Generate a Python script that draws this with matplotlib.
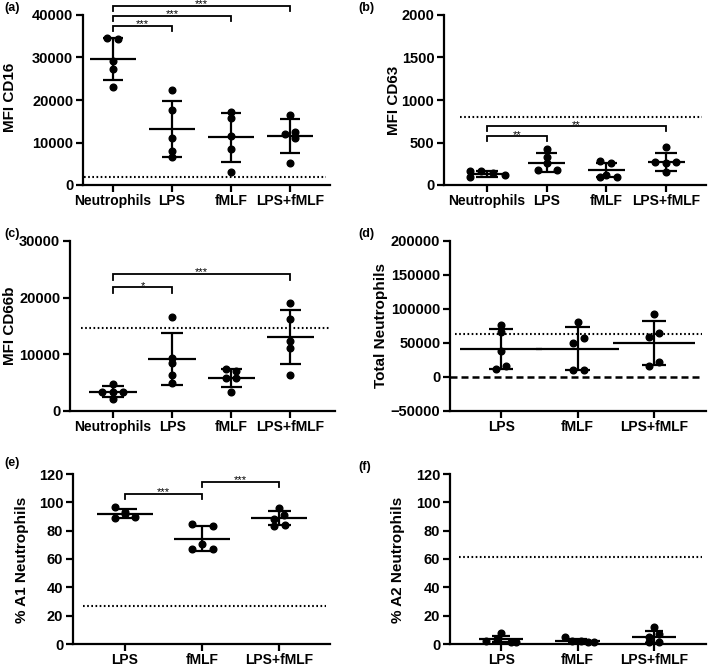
import matplotlib
matplotlib.use('Agg')
import matplotlib.pyplot as plt

plt.rcParams['font.family'] = ['Liberation Sans', 'DejaVu Sans']
plt.rcParams['font.weight'] = 'bold'

# ---------------- data ----------------
cats4 = ["Neutrophils", "LPS", "fMLF", "LPS+fMLF"]
cats3 = ["LPS", "fMLF", "LPS+fMLF"]

cd16_pts = [[34700, 34300, 29200, 27300, 23000],
            [22300, 17600, 11100, 8100, 6700],
            [17200, 15800, 11600, 8500, 3100],
            [16400, 12000, 12500, 11100, 5200]]
cd16_mean = [29700, 13200, 11200, 11500]
cd16_sd = [4900, 6580, 5780, 4050]
cd16_ref = 2000

cd63_pts = [[169, 98, 161, 137, 118],
            [424, 330, 255, 176, 176],
            [286, 255, 98, 98, 120],
            [443, 275, 255, 267, 153]]
cd63_mean = [129, 263, 176, 267]
cd63_sd = [40, 110, 78, 106]
cd63_ref = 805

cd66_pts = [[4800, 3400, 3400, 3300, 2100],
            [16600, 9300, 8500, 6400, 5000],
            [7400, 7100, 5900, 5900, 3350],
            [19100, 16300, 12400, 11200, 6400]]
cd66_mean = [3400, 9180, 5880, 13060]
cd66_sd = [1000, 4530, 1560, 4850]
cd66_ref = 14600

tot_pts = [[76500, 66700, 38200, 16700, 11800],
           [80900, 56900, 50500, 9800, 9800],
           [92200, 64200, 58300, 22100, 15700]]
tot_mean = [41700, 41700, 50000]
tot_sd = [29200, 31600, 31900]
tot_ref = 63000

a1_pts = [[97, 93, 89, 90, 91.5],
          [84.8, 83.2, 70.3, 67.3, 67.3],
          [95.9, 91.4, 87.9, 83.9, 83.2]]
a1_mean = [92.1, 74.3, 89.1]
a1_sd = [3.5, 8.9, 4.8]
a1_ref = 27

a2_pts = [[7.5, 3.5, 1.9, 1.2, 1.2],
          [5.2, 2.3, 1.9, 1.6, 1.2],
          [11.7, 7.0, 4.7, 1.6, 1.2]]
a2_mean = [3.5, 2.1, 5.2]
a2_sd = [2.4, 1.4, 4.2]
a2_ref = 61.5

# significance brackets: (group1, group2, height, label)
sig_a = [(0, 3, 42200, '***'), (0, 2, 39850, '***'), (0, 1, 37400, '***')]
sig_b = [(0, 3, 694, '**'), (0, 1, 576, '**')]
sig_c = [(0, 3, 24180, '***'), (0, 1, 21820, '*')]
sig_e = [(0, 1, 106.2, '***'), (1, 2, 114.4, '***')]

# ---------------- layout (horizontal scatter offsets, in category units) ----------------
off_a = [[-0.1, 0.08, 0, 0, 0], [0, 0, 0, 0, 0], [0, 0, 0, 0, 0], [0, -0.09, 0.08, 0.08, 0]]
off_b = [[-0.28, -0.28, -0.1, 0.1, 0.31], [0, 0, 0, -0.14, 0.17], [-0.1, 0.08, -0.1, 0.18, 0.0], [0, -0.18, 0, 0.17, 0]]
off_c = [[0, -0.19, 0, 0.17, 0], [0, 0, 0, 0, 0], [-0.09, 0.08, 0.08, -0.09, 0], [0, 0, 0, 0, 0]]
off_d = [[0, 0, 0, 0.065, -0.07], [0, 0.08, -0.06, -0.06, 0.08], [0, 0.065, -0.07, 0.065, -0.07]]
off_e = [[-0.13, 0, -0.13, 0.13, 0], [-0.13, 0.14, 0, -0.13, 0.14], [0, 0.06, -0.07, 0.07, -0.07]]
off_f = [[0, -0.06, -0.2, 0.13, 0.2], [-0.17, -0.07, 0.05, 0.13, 0.22], [0, 0.07, -0.07, 0.07, -0.07]]

W, H = 709, 666
fig = plt.figure(figsize=(W / 100, H / 100), dpi=100)
fig.patch.set_facecolor('white')


def add_ax(x0, x1, y_top, y_bot):
    return fig.add_axes([x0 / W, 1 - y_bot / H, (x1 - x0) / W, (y_bot - y_top) / H])


LW = 1.6
YTICKFS = 10.5
XTICKFS = 10


def panel(ax, cats, pts, offs, mean, sd, ref, ylim, yticks, xlim, mw, cw,
          ref_x0=0.0, dashed_zero=False):
    for i, (p, o) in enumerate(zip(pts, offs)):
        ax.plot([i + d for d in o], p, 'o', color='black', ms=4.8, zorder=3,
                clip_on=False)
        ax.hlines(mean[i], i - mw, i + mw, color='black', lw=LW, zorder=4)
        ax.vlines(i, mean[i] - sd[i], mean[i] + sd[i], color='black', lw=LW, zorder=4)
        ax.hlines([mean[i] - sd[i], mean[i] + sd[i]], i - cw, i + cw, color='black',
                  lw=LW, zorder=4)
    ax.axhline(ref, xmin=ref_x0, xmax=0.985, color='black', lw=1.5,
               linestyle=(0, (0.8, 1.2)), zorder=2)
    if dashed_zero:
        ax.axhline(0, xmin=0.0, xmax=0.985, color='black', lw=1.8,
                   linestyle=(0, (2.8, 1.6)), zorder=2)
    ax.set_xlim(*xlim)
    ax.set_ylim(*ylim)
    ax.set_yticks(yticks)
    ax.set_xticks(range(len(cats)))
    ax.set_xticklabels(cats)
    for s in ['top', 'right']:
        ax.spines[s].set_visible(False)
    for s in ['left', 'bottom']:
        ax.spines[s].set_linewidth(LW)
    ax.tick_params(axis='both', direction='out', length=5, width=LW)
    ax.tick_params(axis='y', pad=2, labelsize=YTICKFS)
    ax.tick_params(axis='x', pad=1.5, labelsize=XTICKFS)
    for lab in ax.get_xticklabels() + ax.get_yticklabels():
        lab.set_fontweight('bold')


def brackets(ax, sig, leg, text_off):
    for g1, g2, y, lab in sig:
        ax.plot([g1, g1, g2, g2], [y - leg, y, y, y - leg], color='black', lw=1.3,
                clip_on=False, zorder=5, solid_joinstyle='miter')
        ax.text((g1 + g2) / 2, y + text_off, lab, ha='center', va='bottom',
                fontsize=8, fontweight='normal', clip_on=False)


# (a)
axa = add_ax(83, 330, 15, 185)
panel(axa, cats4, cd16_pts, off_a, cd16_mean, cd16_sd, cd16_ref, (0, 40000),
      [0, 10000, 20000, 30000, 40000], (-0.51, 3.68), 0.39, 0.17, ref_x0=0.005)
brackets(axa, sig_a, 1250, -800)

# (b)
axb = add_ax(444, 706, 15, 185)
panel(axb, cats4, cd63_pts, off_b, cd63_mean, cd63_sd, cd63_ref, (0, 2000),
      [0, 500, 1000, 1500, 2000], (-0.72, 3.67), 0.31, 0.18, ref_x0=0.06)
brackets(axb, sig_b, 62, -45)

# (c)
axc = add_ax(70, 335, 241, 411)
panel(axc, cats4, cd66_pts, off_c, cd66_mean, cd66_sd, cd66_ref, (0, 30000),
      [0, 10000, 20000, 30000], (-0.73, 3.76), 0.4, 0.18, ref_x0=0.04)
brackets(axc, sig_c, 1000, -600)

# (d)
axd = add_ax(450, 706, 241, 411)
panel(axd, cats3, tot_pts, off_d, tot_mean, tot_sd, tot_ref, (-50000, 200000),
      [-50000, 0, 50000, 100000, 150000, 200000], (-0.67, 2.68), 0.54, 0.16,
      ref_x0=0.02, dashed_zero=True)

# (e)
axe = add_ax(73, 330, 474, 644)
panel(axe, cats3, a1_pts, off_e, a1_mean, a1_sd, a1_ref, (0, 120),
      [0, 20, 40, 60, 80, 100, 120], (-0.675, 2.66), 0.36, 0.15, ref_x0=0.04)
brackets(axe, sig_e, 3.7, -2.4)

# (f)
axf = add_ax(450, 706, 474, 644)
panel(axf, cats3, a2_pts, off_f, a2_mean, a2_sd, a2_ref, (0, 120),
      [0, 20, 40, 60, 80, 100, 120], (-0.67, 2.68), 0.29, 0.12, ref_x0=0.035)

# y labels
ylabs = [("MFI CD16", 10, 97), ("MFI CD63", 394, 100), ("MFI CD66b", 10, 326),
         ("Total Neutrophils", 381, 326), ("% A1 Neutrophils", 22, 560),
         ("% A2 Neutrophils", 398, 560)]
for txt, x, y in ylabs:
    fig.text(x / W, 1 - y / H, txt, rotation=90, ha='center', va='center',
             fontsize=11, fontweight='bold')

# panel letters
letters = [("(a)", 4, 8), ("(b)", 358, 8), ("(c)", 4, 234), ("(d)", 358, 234),
           ("(e)", 4, 463), ("(f)", 358, 467)]
for txt, x, y in letters:
    fig.text(x / W, 1 - y / H, txt, ha='left', va='center', fontsize=9,
             fontweight='bold')

fig.savefig('out.png', dpi=100, facecolor='white')
